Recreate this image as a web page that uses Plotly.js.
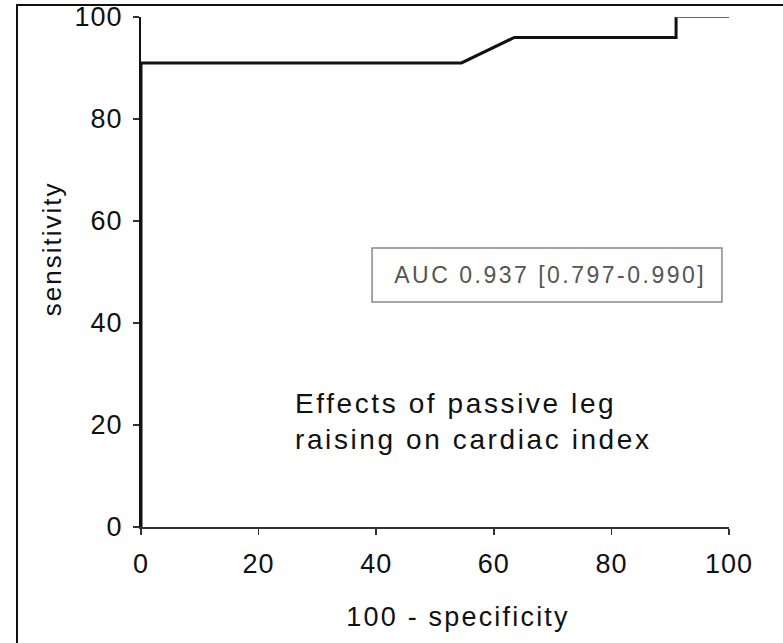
<!DOCTYPE html>
<html>
<head>
<meta charset="utf-8">
<script src="https://cdn.plot.ly/plotly-3.0.1.min.js"></script>
<style>
html,body{margin:0;padding:0;background:#fff;}
#chart{width:783px;height:643px;}
#chart .xtick text, #chart .ytick text{letter-spacing:1px;}
#chart g.annotation[data-index="0"] text{letter-spacing:2.5px;}
#chart g.annotation[data-index="1"] text{letter-spacing:2.6px;}
#chart g.annotation[data-index="2"] text{letter-spacing:2.2px;}
#chart g.annotation[data-index="3"] text{letter-spacing:2px;}
</style>
</head>
<body>
<div id="chart"></div>
<script>
// ROC curve data (100 - specificity, sensitivity)
const fpr = [0, 0, 54.5, 63.5, 91, 91];
const tpr = [0, 91, 91, 96, 96, 100];
const tailFpr = [91, 100];
const tailTpr = [100, 100];
const tickVals = [0, 20, 40, 60, 80, 100];
const tickText = ["0", "20", "40", "60", "80", "100"];
const xTitle = "100 - specificity";
const yTitle = "sensitivity";
const aucText = "AUC 0.937 [0.797-0.990]";
const noteText = "Effects of passive leg<br>raising on cardiac index";

const F = "Liberation Sans, Arial, sans-serif";
const traces = [
  {x: fpr, y: tpr, mode: "lines", line: {color: "#111", width: 3}, cliponaxis: false, hoverinfo: "skip"},
  {x: tailFpr, y: tailTpr, mode: "lines", line: {color: "#666", width: 2}, cliponaxis: false, hoverinfo: "skip"}
];
const layout = {
  width: 783, height: 643,
  margin: {l: 141, r: 54, t: 17, b: 116},
  paper_bgcolor: "#fff", plot_bgcolor: "#fff",
  showlegend: false,
  font: {family: F, size: 22, color: "#111"},
  xaxis: {range: [0, 100], tickvals: tickVals, ticktext: tickText, showgrid: false, zeroline: false,
          showline: true, linecolor: "#333", linewidth: 2, ticks: "outside", ticklen: 6, tickwidth: 1.5, tickcolor: "#333",
          ticklabelstandoff: 6, tickfont: {family: F, size: 27, color: "#111"}},
  yaxis: {range: [0, 100], tickvals: tickVals, ticktext: tickText, showgrid: false, zeroline: false,
          showline: true, linecolor: "#111", linewidth: 2, ticks: "outside", ticklen: 6, tickwidth: 1.5, tickcolor: "#333",
          ticklabelstandoff: 5, tickfont: {family: F, size: 27, color: "#111"}},
  shapes: [
    {type: "path", xref: "paper", yref: "paper", path: "M -0.2109,-0.3 L -0.2109,1.0235 L 1.2,1.0235",
     line: {color: "#111", width: 2}},
    {type: "rect", xref: "x", yref: "y", x0: 39.3, x1: 98.8, y0: 44.1, y1: 54.7,
     line: {color: "#888", width: 1.5}, fillcolor: "rgba(0,0,0,0)"}
  ],
  annotations: [
    {text: aucText, xref: "x", yref: "y", x: 69.6, y: 49.4, xanchor: "center", yanchor: "middle", showarrow: false,
     font: {family: F, size: 23, color: "#555"}},
    {text: noteText, xref: "x", yref: "y", x: 25.9, y: 20.6, xanchor: "left", yanchor: "middle", align: "left", showarrow: false,
     font: {family: F, size: 28, color: "#111"}},
    {text: xTitle, xref: "paper", yref: "paper", x: 0.54, y: -0.176, xanchor: "center", yanchor: "middle", showarrow: false,
     font: {family: F, size: 27, color: "#111"}},
    {text: yTitle, xref: "paper", yref: "paper", x: -0.151, y: 0.545, xanchor: "center", yanchor: "middle", textangle: -90, showarrow: false,
     font: {family: F, size: 26, color: "#111"}}
  ]
};
Plotly.newPlot("chart", traces, layout, {staticPlot: true, displayModeBar: false});
</script>
</body>
</html>
